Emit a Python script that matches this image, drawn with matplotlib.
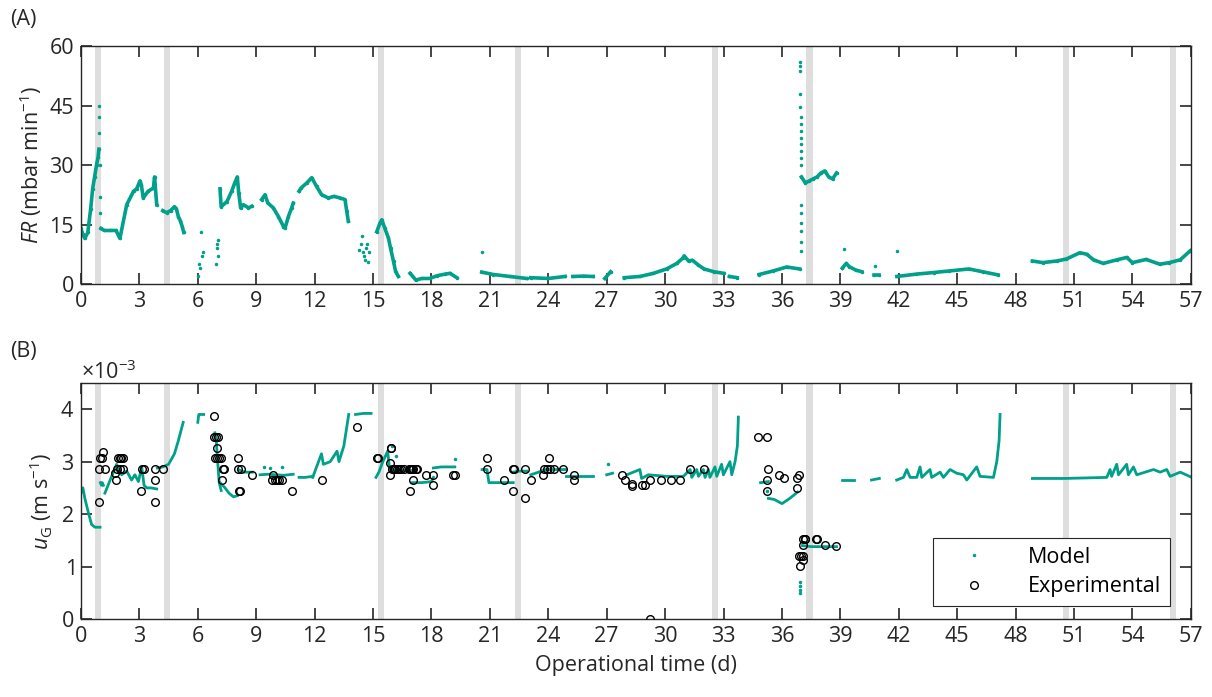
import numpy as np
import matplotlib.pyplot as plt
from matplotlib.ticker import ScalarFormatter

plt.rcParams['font.family'] = ['Open Sans', 'DejaVu Sans']
plt.rcParams['mathtext.fontset'] = 'custom'
plt.rcParams['mathtext.rm'] = 'Open Sans'
plt.rcParams['mathtext.it'] = 'Open Sans:italic'

teal = '#00A08A'
band_color = '#DEDEDE'
fs = 15.5

# grey bands (start, end) in days
bands = [(0.72, 1.03), (4.25, 4.57), (15.24, 15.56), (22.3, 22.6),
         (32.4, 32.7), (37.25, 37.58), (50.45, 50.75), (55.95, 56.25)]

# ---- panel A: FR (mbar/min), model segments ----
fr_t = [
    [0, 0.1, 0.2, 0.35, 0.5, 0.6, 0.7, 0.8, 0.88, 0.92],
    [1.02, 1.2, 1.5, 1.8, 2.0, 2.35, 2.7, 2.86, 3.03, 3.1, 3.2, 3.45, 3.72, 3.78, 3.89],
    [4.2, 4.4, 4.6, 4.8, 4.9, 5.0, 5.1, 5.2, 5.28],
    [7.14, 7.2, 7.5, 7.74, 7.9, 8.03, 8.1, 8.2, 8.34, 8.6, 8.77],
    [9.28, 9.45, 9.6, 9.88, 10.14, 10.4, 10.48, 10.65, 10.82, 10.9],
    [11.2, 11.3, 11.6, 11.85, 12.1, 12.36, 12.7, 13.0, 13.3, 13.56, 13.65, 13.73],
    [15.19, 15.36, 15.45, 15.6, 15.79, 15.9, 16.05, 16.16, 16.3],
    [16.9, 17.2, 17.5, 17.9, 18.3, 18.7, 18.95, 19.3],
    [20.58, 21.18, 22.03, 22.89],
    [23.1, 24.0, 24.86],
    [25.26, 25.8, 26.3],
    [26.9, 27.2],
    [27.9, 28.7, 29.4, 30.07, 30.6, 30.9, 30.98, 31.2, 31.4, 31.7, 32.0, 32.5, 33.0],
    [33.3, 33.7],
    [34.82, 35.55, 36.24, 36.9],
    [37.0, 37.2, 37.4, 37.6, 37.8, 38.0, 38.2, 38.4, 38.6, 38.8],
    [39.1, 39.3, 39.45, 39.8, 40.1],
    [40.7, 41.0],
    [41.9, 42.9, 43.8, 44.6, 45.6, 46.3, 47.1],
    [48.86, 49.4, 50.1, 50.6, 51.3, 51.65, 52.0, 52.5, 53.2, 53.7, 54.0, 54.7, 55.4, 55.9, 56.45, 56.97],
]
fr_v = [
    [14, 12.5, 11.5, 13, 19, 24, 27, 30, 32, 34],
    [14, 13.5, 13.5, 13.5, 11.5, 20, 23.4, 24, 26, 25, 21.7, 23.4, 24.2, 27, 20],
    [18.5, 18, 18.5, 19.5, 19, 17, 16, 14.5, 13],
    [24, 19.5, 20.8, 23.4, 25.5, 27, 23, 19.2, 20, 19.2, 19.6],
    [21.3, 22.5, 20.4, 19.2, 17, 14.5, 14.1, 17, 19.2, 20.4],
    [23.4, 24.2, 25.5, 26.8, 24.6, 22.5, 21.7, 22.1, 21.7, 21.3, 18.3, 15.8],
    [13.2, 15.4, 16.2, 14.1, 11.6, 9, 5.7, 3.1, 1.9],
    [2.7, 1.0, 1.4, 1.4, 2.1, 2.5, 2.7, 1.6],
    [3.0, 2.4, 1.9, 1.4],
    [1.6, 1.4, 1.9],
    [1.9, 2.0, 1.9],
    [1.4, 3.1],
    [1.6, 1.9, 2.7, 3.8, 5.2, 6.5, 7.1, 5.8, 6.0, 4.8, 3.8, 3.1, 2.7],
    [1.9, 1.6],
    [2.4, 3.3, 4.3, 3.8],
    [27, 25.5, 26, 26.5, 27, 28, 28.5, 27, 26.5, 28],
    [4.0, 5.2, 4.4, 3.5, 3.1],
    [2.4, 2.4],
    [1.9, 2.5, 2.9, 3.3, 3.8, 3.1, 2.3],
    [5.8, 5.4, 5.8, 6.3, 7.9, 7.5, 6.1, 5.2, 6.1, 6.7, 5.4, 6.2, 5.0, 5.4, 6.1, 8.4],
]
# isolated FR points
fr_pt_t = [0.93, 0.94, 0.95, 0.97, 0.99, 1.0,
           6.0, 6.05, 6.1, 6.15, 6.2, 6.25, 6.95, 6.98, 7.0, 7.02, 7.05,
           14.3, 14.4, 14.45, 14.5, 14.55, 14.6, 14.65, 14.7, 14.75, 14.8,
           20.6, 39.2, 40.8, 41.9,
           36.93, 36.94, 36.94, 36.95, 36.95, 36.96, 36.96, 36.96, 36.97, 36.97,
           36.97, 36.98, 36.98, 36.98, 36.99, 36.99, 36.99, 37.0, 37.0]
fr_pt_v = [38, 42, 45, 30, 22, 18,
           2, 5, 4, 13, 7, 8, 5, 10, 9, 11, 7,
           8.5, 10, 12, 8, 7, 6, 9, 10, 5.5, 8,
           8.0, 8.8, 4.5, 8.2,
           55.9, 55.0, 53.8, 47.9, 44.5, 42, 40.3, 38.6, 36.9, 35.2,
           33.5, 31.8, 30.1, 20, 17.9, 15.4, 13.3, 10.7, 8.4]

# ---- panel B: u_G (x 1e-3 m/s), model segments ----
ug_t = [
    [0, 0.1, 0.2, 0.4, 0.55, 0.72, 0.98],
    [1.0, 1.05, 1.1, 1.15],
    [1.23, 1.5, 1.83, 2.09, 2.35, 2.6, 2.77, 2.95, 3.12, 3.24, 3.37, 3.6, 3.89],
    [3.92, 4.2, 4.5, 4.8, 5.0, 5.25],
    [6.0, 6.05, 6.3],
    [6.88, 6.95, 7.0, 7.05, 7.1, 7.2],
    [7.14, 7.4, 7.6, 7.83, 8.03],
    [8.08, 8.4, 8.8],
    [9.2, 9.6, 10.0, 10.4, 10.9],
    [11.2, 11.5, 11.9],
    [11.9, 12.35, 12.45, 12.8, 13.15, 13.25, 13.5, 13.75],
    [14.1, 14.5, 14.9],
    [15.15, 15.3, 15.5, 15.75, 15.85, 16.0],
    [16.0, 16.4, 16.9],
    [17.0, 17.5, 18.0, 18.1],
    [18.1, 18.5, 19.0, 19.2],
    [20.6, 20.85, 20.95, 21.5, 22.2],
    [22.2, 22.5, 22.9],
    [23.1, 23.5, 23.8, 24.3, 24.9],
    [24.9, 25.5, 26.3],
    [27.0, 27.3],
    [28.03, 28.7, 28.79, 29.14, 30.08, 30.94, 31.28, 31.37, 31.62, 31.71, 31.96, 32.05,
     32.22, 32.3, 32.56, 32.65, 32.9, 32.99, 33.33, 33.42, 33.59, 33.71, 33.76],
    [34.9, 35.3],
    [35.3, 35.6, 36.0, 36.4, 36.8],
    [37.05, 37.5, 38.0, 38.5, 38.8],
    [39.1, 39.7],
    [40.6, 41.0],
    [41.89, 42.24, 42.41, 42.58, 42.92, 43.09, 43.18, 43.6, 43.69, 44.12, 44.29, 44.63,
     44.97, 45.32, 45.49, 46.0, 46.17, 46.86, 47.03, 47.15, 47.2],
    [48.86, 50.5, 52.68, 52.85, 52.93, 53.19, 53.28, 53.7, 53.79, 54.05, 54.22, 55.08,
     55.42, 55.76, 55.93, 56.45, 57.05],
]
ug_v = [
    [2.4, 2.5, 2.3, 2.0, 1.8, 1.75, 1.75],
    [2.6, 2.55, 2.6, 2.55],
    [2.4, 2.65, 2.95, 2.75, 2.82, 2.65, 2.75, 2.62, 2.9, 2.55, 2.5, 2.5, 2.48],
    [2.88, 2.9, 2.95, 3.15, 3.4, 3.75],
    [3.75, 3.9, 3.9],
    [3.55, 3.4, 3.1, 2.85, 2.6, 2.45],
    [2.6, 2.5, 2.4, 2.33, 2.35],
    [2.85, 2.8, 2.8],
    [2.75, 2.76, 2.75, 2.74, 2.76],
    [2.7, 2.7, 2.72],
    [2.7, 3.15, 2.95, 3.0, 3.2, 3.0, 3.3, 3.9],
    [3.9, 3.92, 3.92],
    [2.7, 2.8, 3.0, 3.2, 2.85, 2.85],
    [2.85, 2.85, 2.85],
    [2.6, 2.6, 2.62, 2.7],
    [2.88, 2.9, 2.9, 2.9],
    [2.85, 2.85, 2.6, 2.6, 2.6],
    [2.8, 2.82, 2.82],
    [2.75, 2.8, 2.85, 2.85, 2.85],
    [2.72, 2.72, 2.72],
    [2.75, 2.78],
    [2.75, 2.85, 2.68, 2.75, 2.72, 2.72, 2.85, 2.7, 2.85, 2.72, 2.85, 2.7,
     2.85, 2.7, 2.9, 2.72, 2.95, 2.75, 3.0, 2.75, 3.0, 3.3, 3.85],
    [2.6, 2.62],
    [2.3, 2.28, 2.2, 2.3, 2.42],
    [1.4, 1.38, 1.38, 1.38, 1.38],
    [2.65, 2.65],
    [2.65, 2.68],
    [2.65, 2.7, 2.85, 2.7, 2.7, 2.9, 2.7, 2.85, 2.7, 2.8, 2.7, 2.85,
     2.78, 2.75, 2.65, 2.9, 2.72, 2.7, 3.0, 3.4, 3.9],
    [2.68, 2.68, 2.7, 2.85, 2.72, 2.95, 2.75, 2.95, 2.75, 2.9, 2.75, 2.85,
     2.8, 2.85, 2.72, 2.8, 2.7],
]
ug_pt_t = [36.92, 36.93, 36.94, 36.95, 9.4, 9.7, 10.3, 15.95, 16.2, 19.2, 27.05, 35.25]
ug_pt_v = [0.55, 0.62, 0.5, 0.7, 2.9, 2.88, 2.9, 3.3, 3.1, 3.05, 2.95, 2.45]

# experimental u_G (x 1e-3 m/s)
exp_t = [0.91, 0.91, 0.98, 1.08, 1.15, 1.22, 1.76, 1.8, 1.87, 1.92, 2.0, 2.07, 2.14, 2.0, 2.17,
         3.08, 3.13, 3.24, 3.82, 3.82, 3.82, 4.2,
         6.82, 6.82, 6.93, 7.05, 7.0, 6.9, 7.0, 7.1, 7.2, 7.28, 7.35, 7.23,
         8.08, 8.08, 8.2, 8.1, 8.15, 8.8, 9.88, 9.8, 9.95, 10.08, 10.18, 10.3, 10.84, 12.38,
         14.16, 15.2, 15.25, 15.9, 15.93, 15.87, 15.87,
         15.96, 16.05, 16.15, 16.25, 16.35, 16.45, 16.6, 16.9, 17.0, 17.2,
         16.86, 16.95, 17.07, 17.27, 16.9, 17.07, 17.72, 18.06, 18.1, 19.12, 19.2,
         20.87, 20.87, 21.72, 22.2, 22.25, 22.2, 22.8, 22.8, 23.11, 23.75,
         23.8, 23.95, 24.1, 24.3, 24.05, 24.77, 25.3, 25.3,
         27.8, 27.94, 28.3, 28.3, 28.8, 28.97, 29.23, 29.23, 29.8, 30.3, 30.76, 31.27, 31.99,
         34.75, 35.21, 35.3, 35.21, 35.25, 35.87, 36.1, 36.75, 36.85, 36.78,
         36.85, 37.0, 37.1, 36.9, 37.1, 37.1, 37.1, 37.2, 37.8, 37.2, 37.75, 38.2, 38.78]
exp_v = [2.24, 2.86, 3.07, 3.07, 3.18, 2.86, 2.78, 2.65, 2.86, 3.07, 3.07, 3.07, 3.07, 2.86, 2.86,
         2.45, 2.86, 2.86, 2.86, 2.65, 2.24, 2.86,
         3.88, 3.47, 3.47, 3.47, 3.27, 3.07, 3.07, 3.07, 3.07, 2.86, 2.86, 2.65,
         3.07, 2.86, 2.86, 2.45, 2.45, 2.75, 2.75, 2.65, 2.65, 2.65, 2.65, 2.65, 2.45, 2.65,
         3.67, 3.07, 3.07, 3.27, 3.27, 2.97, 2.75,
         2.86, 2.86, 2.86, 2.86, 2.86, 2.86, 2.86, 2.86, 2.86, 2.86,
         2.86, 2.86, 2.86, 2.86, 2.45, 2.65, 2.75, 2.75, 2.55, 2.75, 2.75,
         3.07, 2.86, 2.65, 2.86, 2.86, 2.45, 2.3, 2.86, 2.65, 2.75,
         2.86, 2.86, 2.86, 2.86, 3.07, 2.86, 2.75, 2.65,
         2.75, 2.65, 2.57, 2.53, 2.55, 2.55, 2.65, 0.0, 2.65, 2.65, 2.65, 2.86, 2.86,
         3.47, 3.47, 2.86, 2.65, 2.45, 2.75, 2.69, 2.69, 2.75, 2.49,
         1.21, 1.21, 1.21, 1.02, 1.13, 1.42, 1.52, 1.52, 1.52, 1.52, 1.52, 1.42, 1.39]

fig = plt.figure(figsize=(12.12, 6.97), dpi=100)
ax1 = fig.add_axes([0.0668, 0.5925, 0.9158, 0.3415])
ax2 = fig.add_axes([0.0668, 0.1119, 0.9158, 0.3386])

for ax in (ax1, ax2):
    for b0, b1 in bands:
        ax.axvspan(b0, b1, color=band_color, lw=0, zorder=0)
    ax.set_xlim(0, 57)
    ax.set_xticks(np.arange(0, 58, 3))
    ax.tick_params(direction='in', length=8, width=1.2, top=True, right=True,
                   labelsize=fs, colors='#262626', pad=5)
    for s in ax.spines.values():
        s.set_color('#262626')
        s.set_linewidth(1.0)

# panel A
for t, v in zip(fr_t, fr_v):
    ax1.plot(t, v, '-', color=teal, lw=2.6, zorder=2)
    ax1.plot(t, v, '.', color=teal, ms=3, zorder=2)
ax1.plot(fr_pt_t, fr_pt_v, '.', color=teal, ms=3, zorder=2)
ax1.set_ylim(0, 60)
ax1.set_yticks([0, 15, 30, 45, 60])
ax1.set_ylabel(r'$FR$ (mbar min$^{-1}$)', fontsize=fs, color='#262626', labelpad=4)

# panel B
scale = 1e-3
for t, v in zip(ug_t, ug_v):
    ax2.plot(t, np.array(v) * scale, '-', color=teal, lw=2.0, zorder=2)
ax2.plot(ug_pt_t, np.array(ug_pt_v) * scale, '.', color=teal, ms=3, zorder=2)
ax2.plot([], [], '.', color=teal, ms=3, label='Model')
ax2.plot(exp_t, np.array(exp_v) * scale, 'o', mfc='none', mec='black', ms=5.5, mew=1.0,
         zorder=3, label='Experimental')
ax2.set_ylim(0, 4.5e-3)
ax2.set_yticks(np.array([0, 1, 2, 3, 4]) * scale)
fmt = ScalarFormatter(useMathText=True)
fmt.set_powerlimits((-2, 2))
ax2.yaxis.set_major_formatter(fmt)
ax2.yaxis.get_offset_text().set_fontsize(fs)
ax2.yaxis.get_offset_text().set_color('#262626')
ax2.set_ylabel(r'$u_\mathrm{G}$ (m s$^{-1}$)', fontsize=fs, color='#262626', labelpad=4)
ax2.set_xlabel('Operational time (d)', fontsize=fs, color='#262626', labelpad=6)

leg = ax2.legend(loc='lower right', bbox_to_anchor=(0.981, 0.055), fontsize=fs,
                 frameon=True, fancybox=False, framealpha=1, edgecolor='#262626',
                 handlelength=3, handletextpad=1.0, borderpad=0.4, labelspacing=0.4,
                 borderaxespad=0, markerscale=1)
leg.get_frame().set_linewidth(0.8)

fig.text(10 / 1212, 1 - 20 / 697, '(A)', fontsize=fs, va='center', color='#262626')
fig.text(10 / 1212, 1 - 352 / 697, '(B)', fontsize=fs, va='center', color='#262626')

fig.savefig('out.png', dpi=100)
